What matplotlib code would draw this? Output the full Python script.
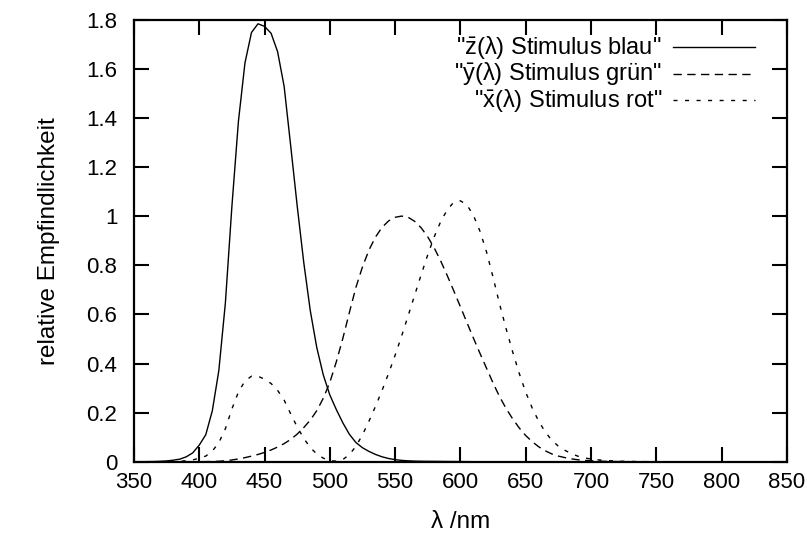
import numpy as np
import matplotlib
matplotlib.use("Agg")
import matplotlib.pyplot as plt
from matplotlib.lines import Line2D

plt.rcParams['font.family'] = ['Liberation Sans', 'DejaVu Sans']
plt.rcParams['mathtext.fontset'] = 'custom'
plt.rcParams['mathtext.rm'] = 'Liberation Sans'
plt.rcParams['mathtext.it'] = 'Liberation Sans:italic'

# CIE 1931 colour matching functions, 5 nm steps from 360 to 780 nm
wavelength = list(range(360, 785, 5))

xbar = [0.000130, 0.000232, 0.000415, 0.000742, 0.001368, 0.002236, 0.004243, 0.007650,
        0.014310, 0.023190, 0.043510, 0.077630, 0.134380, 0.214770, 0.283900, 0.328500,
        0.348280, 0.348060, 0.336200, 0.318700, 0.290800, 0.251100, 0.195360, 0.142100,
        0.095640, 0.057950, 0.032010, 0.014700, 0.004900, 0.002400, 0.009300, 0.029100,
        0.063270, 0.109600, 0.165500, 0.225750, 0.290400, 0.359700, 0.433450, 0.512050,
        0.594500, 0.678400, 0.762100, 0.842500, 0.916300, 0.978600, 1.026300, 1.056700,
        1.062200, 1.045600, 1.002600, 0.938400, 0.854450, 0.751400, 0.642400, 0.541900,
        0.447900, 0.360800, 0.283500, 0.218700, 0.164900, 0.121200, 0.087400, 0.063600,
        0.046770, 0.032900, 0.022700, 0.015840, 0.011359, 0.008111, 0.005790, 0.004109,
        0.002899, 0.002049, 0.001440, 0.001000, 0.000690, 0.000476, 0.000332, 0.000235,
        0.000166, 0.000117, 0.000083, 0.000059, 0.000042]

ybar = [0.000004, 0.000007, 0.000012, 0.000022, 0.000039, 0.000064, 0.000120, 0.000217,
        0.000396, 0.000640, 0.001210, 0.002180, 0.004000, 0.007300, 0.011600, 0.016840,
        0.023000, 0.029800, 0.038000, 0.048000, 0.060000, 0.073900, 0.090980, 0.112600,
        0.139020, 0.169300, 0.208020, 0.258600, 0.323000, 0.407300, 0.503000, 0.608200,
        0.710000, 0.793200, 0.862000, 0.914850, 0.954000, 0.980300, 0.994950, 1.000000,
        0.995000, 0.978600, 0.952000, 0.915400, 0.870000, 0.816300, 0.757000, 0.694900,
        0.631000, 0.566800, 0.503000, 0.441200, 0.381000, 0.321000, 0.265000, 0.217000,
        0.175000, 0.138200, 0.107000, 0.081600, 0.061000, 0.044580, 0.032000, 0.023200,
        0.017000, 0.011920, 0.008210, 0.005723, 0.004102, 0.002929, 0.002091, 0.001484,
        0.001047, 0.000740, 0.000520, 0.000361, 0.000249, 0.000172, 0.000120, 0.000085,
        0.000060, 0.000042, 0.000030, 0.000021, 0.000015]

zbar = [0.000606, 0.001086, 0.001946, 0.003486, 0.006450, 0.010550, 0.020050, 0.036210,
        0.067850, 0.110200, 0.207400, 0.371300, 0.645600, 1.039050, 1.385600, 1.622960,
        1.747060, 1.782600, 1.772110, 1.744100, 1.669200, 1.528100, 1.287640, 1.041900,
        0.812950, 0.616200, 0.465180, 0.353300, 0.272000, 0.212300, 0.158200, 0.111700,
        0.078250, 0.057250, 0.042160, 0.029840, 0.020300, 0.013400, 0.008750, 0.005750,
        0.003900, 0.002750, 0.002100, 0.001800, 0.001650, 0.001400, 0.001100, 0.001000,
        0.000800, 0.000600, 0.000340, 0.000240, 0.000190, 0.000100, 0.000050, 0.000030,
        0.000020, 0.000010, 0, 0, 0, 0, 0, 0, 0, 0, 0, 0, 0, 0, 0, 0, 0, 0, 0, 0, 0, 0,
        0, 0, 0, 0, 0, 0, 0]

labels = ['"$\\bar{\\mathrm{z}}$(\u03bb) Stimulus blau"',
          '"$\\bar{\\mathrm{y}}$(\u03bb) Stimulus gr\u00fcn"',
          '"$\\bar{\\mathrm{x}}$(\u03bb) Stimulus rot"']

xticks = [350, 400, 450, 500, 550, 600, 650, 700, 750, 800, 850]
yticks = [0, 0.2, 0.4, 0.6, 0.8, 1, 1.2, 1.4, 1.6, 1.8]
ytick_labels = ['0', '0.2', '0.4', '0.6', '0.8', '1', '1.2', '1.4', '1.6', '1.8']

fig = plt.figure(figsize=(8.07, 5.42), dpi=100)
ax = fig.add_axes([0.166, 0.148, 0.809, 0.816])

styles = [dict(linestyle='-'),
          dict(linestyle=(0, (6, 3.9))),
          dict(linestyle=(0, (2.9, 5.4)))]
series = [zbar, ybar, xbar]

for s, st in zip(series, styles):
    ax.plot(wavelength, s, color='black', linewidth=1.0, **st)

ax.set_xlim(350, 850)
ax.set_ylim(0, 1.8)
ax.set_xticks(xticks)
ax.set_xticklabels([str(t) for t in xticks])
ax.set_yticks(yticks)
ax.set_yticklabels(ytick_labels)
ax.tick_params(direction='in', length=11, width=1.5, labelsize=16,
               top=True, right=True)
ax.tick_params(axis='x', pad=7)
ax.tick_params(axis='y', pad=12)
for sp in ax.spines.values():
    sp.set_linewidth(1.6)

ax.set_xlabel('\u03bb /nm', fontsize=17.5, labelpad=13)
ax.set_ylabel('relative Empfindlichkeit', fontsize=17.5, labelpad=19)

# gnuplot style key: text right aligned, sample line on the right
rows = [0.937, 0.877, 0.817]
for lab, st, yy in zip(labels, styles, rows):
    ax.text(0.8086, yy, lab, transform=ax.transAxes, ha='right', va='center',
            fontsize=17)
    ax.add_line(Line2D([0.825, 0.951], [yy, yy], transform=ax.transAxes,
                       color='black', linewidth=1.0, **st))

fig.savefig('out.png', dpi=100)
